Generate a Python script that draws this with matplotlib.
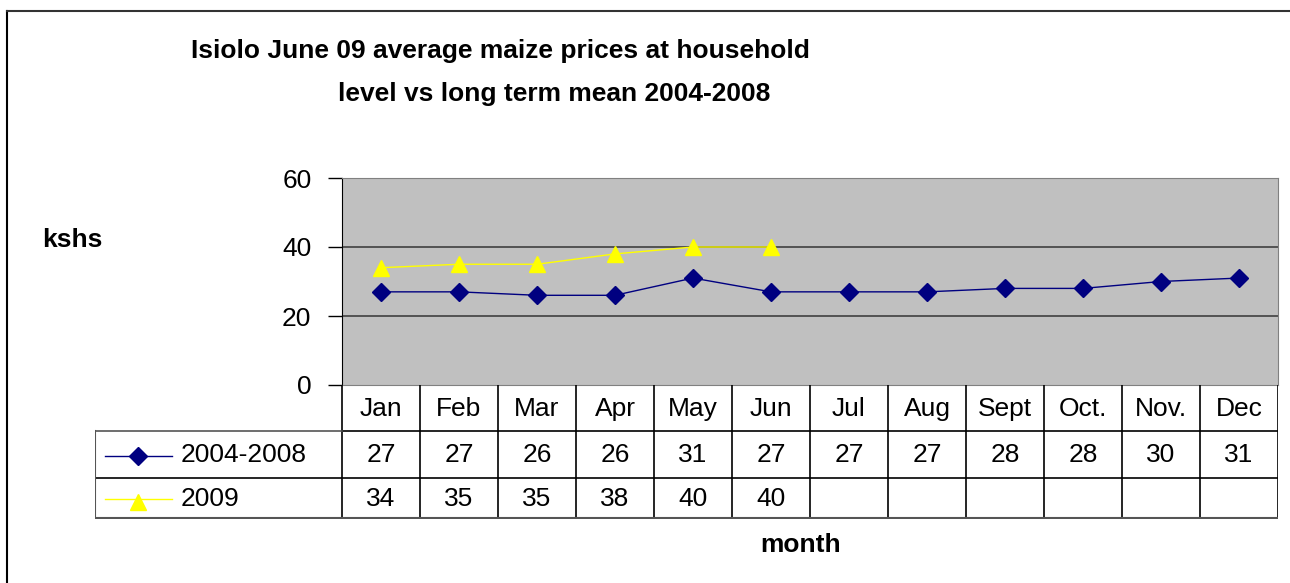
import matplotlib
matplotlib.use("Agg")
import matplotlib.pyplot as plt
from matplotlib.lines import Line2D

plt.rcParams["font.family"] = ["Liberation Sans", "DejaVu Sans"]

months = ["Jan", "Feb", "Mar", "Apr", "May", "Jun", "Jul", "Aug", "Sept", "Oct.", "Nov.", "Dec"]
mean_0408 = [27, 27, 26, 26, 31, 27, 27, 27, 28, 28, 30, 31]
prices_2009 = [34, 35, 35, 38, 40, 40]
series_names = ["2004-2008", "2009"]

W, H = 1290, 583
fig = plt.figure(figsize=(W / 100, H / 100), dpi=100)

def box(x0, y0, x1, y1):
	# pixel box (top-left origin) -> figure fraction rect
	return [x0 / W, (H - y1) / H, (x1 - x0) / W, (y1 - y0) / H]

# outer frame of the chart object (only top and left visible)
fig.add_artist(Line2D([7 / W, 7 / W], [0, 1 - 11 / H], color="black", lw=1.5))
fig.add_artist(Line2D([7 / W, 1], [1 - 11 / H, 1 - 11 / H], color="#333333", lw=1.5))

# plot area
ax = fig.add_axes(box(342, 178, 1278, 385))
ax.set_facecolor("#C0C0C0")
x = [i + 0.5 for i in range(len(months))]
ax.plot(x, mean_0408, color="#000080", lw=1, marker="D", ms=9, label=series_names[0])
ax.plot(x[:len(prices_2009)], prices_2009, color="#FFFF00", lw=1, marker="^", ms=11,
	label=series_names[1])
ax.set_xlim(0, 12)
ax.set_ylim(0, 60)
ax.set_yticks([0, 20, 40, 60])
ax.set_xticks([])
ax.tick_params(axis="y", labelsize=19, length=10, width=1, pad=12)
for y in [20, 40]:
	ax.axhline(y, color="#404040", lw=1.2, zorder=0.5)
for side in ["top", "right", "bottom"]:
	ax.spines[side].set_color("#808080")
ax.spines["left"].set_color("black")

# data table under the plot
tb = fig.add_axes(box(95, 385, 1278, 519))
tb.set_xlim(95, 1278)
tb.set_ylim(519, 385)
tb.axis("off")
col_w = (1278 - 342) / len(months)
rows = [385, 431, 478, 518]
lc = "black"
for i in range(len(months) + 1):
	cx = 342 + i * col_w
	tb.plot([cx, cx], [rows[0], rows[3]], color=lc, lw=1.2)
tb.plot([342, 1278], [rows[1], rows[1]], color=lc, lw=1.2)
tb.plot([95, 342], [rows[1], rows[1]], color="#555555", lw=1.2)
tb.plot([95, 1278], [rows[2], rows[2]], color=lc, lw=1.2)
tb.plot([95, 1278], [rows[3], rows[3]], color="#555555", lw=1.5)
tb.plot([95, 95], [rows[1], rows[3]], color="#555555", lw=1.5)

fs = 19
for i, m in enumerate(months):
	tb.text(342 + (i + 0.5) * col_w, (rows[0] + rows[1]) / 2 + 1, m, ha="center", va="center",
		fontsize=fs)
for i, v in enumerate(mean_0408):
	tb.text(342 + (i + 0.5) * col_w, (rows[1] + rows[2]) / 2 + 1, str(v), ha="center",
		va="center", fontsize=fs)
for i, v in enumerate(prices_2009):
	tb.text(342 + (i + 0.5) * col_w, (rows[2] + rows[3]) / 2 + 1, str(v), ha="center",
		va="center", fontsize=fs)

# legend keys inside the table
styles = [("#000080", "D", 9), ("#FFFF00", "^", 11)]
for r, (name, (c, mk, ms)) in enumerate(zip(series_names, styles)):
	ym = (rows[r + 1] + rows[r + 2]) / 2 + 1
	tb.plot([105, 172], [ym, ym], color=c, lw=1)
	tb.plot([138], [ym + (3 if mk == "^" else 0)], marker=mk, color=c, ms=ms)
	tb.text(181, ym, name, ha="left", va="center", fontsize=fs)

# titles and axis labels
fig.text(500 / W, 1 - 51 / H, "Isiolo June 09 average maize prices at household",
	ha="center", va="center", fontsize=19, fontweight="bold")
fig.text(554 / W, 1 - 94 / H, "level vs long term mean 2004-2008",
	ha="center", va="center", fontsize=19, fontweight="bold")
fig.text(72 / W, 1 - 240 / H, "kshs", ha="center", va="center", fontsize=19, fontweight="bold")
fig.text(801 / W, 1 - 545 / H, "month", ha="center", va="center", fontsize=19,
	fontweight="bold")

fig.savefig("out.png", dpi=100)
